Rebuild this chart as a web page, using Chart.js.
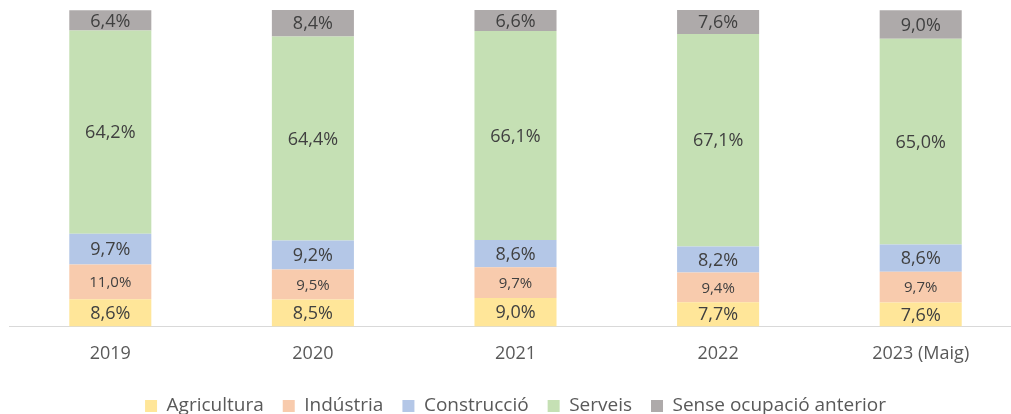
<!DOCTYPE html>
<html>
<head>
<meta charset="utf-8">
<script src="https://cdn.jsdelivr.net/npm/chart.js@4.4.0/dist/chart.umd.min.js"></script>
<style>
  html, body { margin: 0; padding: 0; background: #fff; overflow: hidden; }
  #wrap { width: 1030px; height: 414px; position: relative; }
</style>
</head>
<body>
<div id="wrap"><canvas id="grafic"></canvas></div>
<script>
const anys = ["2019", "2020", "2021", "2022", "2023 (Maig)"]

const agricultura = [8.6, 8.5, 9.0, 7.7, 7.6]
const industria = [11.0, 9.5, 9.7, 9.4, 9.7]
const construccio = [9.7, 9.2, 8.6, 8.2, 8.6]
const serveis = [64.2, 64.4, 66.1, 67.1, 65.0]
const senseOcupacio = [6.4, 8.4, 6.6, 7.6, 9.0]

const fontBase = "'Open Sans', 'Noto Sans', sans-serif"

// etiquetes dins de cada tram de la barra
const etiquetes = {
  id: "etiquetes",
  afterDatasetsDraw(chart) {
    const ctx = chart.ctx
    chart.data.datasets.forEach((ds, i) => {
      const meta = chart.getDatasetMeta(i)
      meta.data.forEach((bar, j) => {
        const v = ds.data[j]
        const mida = ds.midaEtiqueta || 18
        ctx.save()
        ctx.font = mida + "px " + fontBase
        ctx.fillStyle = "#404040"
        ctx.textAlign = "center"
        ctx.textBaseline = "middle"
        const y = (bar.y + bar.base) / 2
        ctx.fillText(v.toFixed(1).replace(".", ",") + "%", bar.x, y + 1)
        ctx.restore()
      })
    })
  }
}

const ctx = document.getElementById("grafic")

new Chart(ctx, {
  type: "bar",
  data: {
    labels: anys,
    datasets: [
      { label: "Agricultura", data: agricultura, backgroundColor: "#FFE699" },
      { label: "Indústria", data: industria, backgroundColor: "#F8CBAD", midaEtiqueta: 15 },
      { label: "Construcció", data: construccio, backgroundColor: "#B4C7E7" },
      { label: "Serveis", data: serveis, backgroundColor: "#C5E0B4" },
      { label: "Sense ocupació anterior", data: senseOcupacio, backgroundColor: "#AEAAAA" }
    ]
  },
  options: {
    responsive: true,
    maintainAspectRatio: false,
    animation: false,
    layout: { padding: { top: 10, left: 9, right: 8, bottom: -11.5 } },
    datasets: {
      bar: { categoryPercentage: 1, barPercentage: 0.405, borderWidth: 0 }
    },
    scales: {
      x: {
        stacked: true,
        grid: { display: false, drawTicks: false },
        border: { display: true, color: "#D9D9D9", width: 1 },
        ticks: { color: "#595959", font: { family: fontBase, size: 18 }, padding: 17 },
        afterFit: (eix) => { eix.height -= 4.6 }
      },
      y: {
        stacked: true,
        display: false,
        min: 0,
        max: 100
      }
    },
    plugins: {
      tooltip: { enabled: false },
      legend: {
        position: "bottom",
        labels: {
          color: "#595959",
          font: { family: fontBase, size: 19 },
          boxWidth: 12,
          boxHeight: 12,
          padding: 19
        }
      }
    }
  },
  plugins: [etiquetes]
})
</script>
</body>
</html>
